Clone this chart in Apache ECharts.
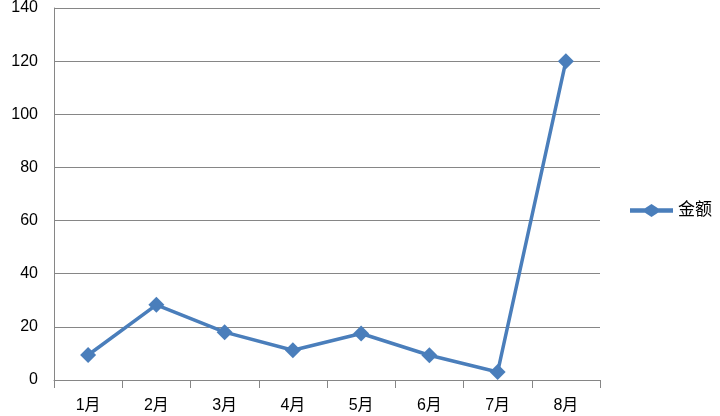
<!DOCTYPE html>
<html><head><meta charset="utf-8">
<script src="https://cdn.jsdelivr.net/npm/echarts@6/dist/echarts.min.js"></script>
<style>html,body{margin:0;padding:0;background:#fff}#c{width:720px;height:416px}</style>
</head><body><div id="c"></div>
<script>
const categories = ['1月','2月','3月','4月','5月','6月','7月','8月'];
const amounts = [9.4, 28.3, 18, 11.2, 17.5, 9.3, 3, 120];
const seriesName = '金额';
const font = '"Liberation Sans", "Noto Sans CJK SC", sans-serif';
const chart = echarts.init(document.getElementById('c'));
chart.setOption({
  animation: false,
  textStyle: {fontFamily: font},
  grid: {left: 54, right: 120, top: 8, bottom: 36, containLabel: false},
  legend: {
    data: [{name: seriesName, icon: 'path://M0,-2.2 L15,-2.2 L21.5,-6.5 L28,-2.2 L43,-2.2 L43,2.2 L28,2.2 L21.5,6.5 L15,2.2 L0,2.2Z'}],
    orient: 'vertical', left: 625, top: 197, padding: 5,
    itemWidth: 43, itemHeight: 13, itemGap: 4,
    textStyle: {fontSize: 17, color: '#000', fontFamily: font}
  },
  xAxis: {
    type: 'category', data: categories, boundaryGap: true,
    axisLine: {lineStyle: {color: '#868686', width: 1}},
    axisTick: {show: true, length: 8, lineStyle: {color: '#868686'}},
    axisLabel: {fontSize: 16, color: '#000', margin: 18, fontFamily: font}
  },
  yAxis: {
    type: 'value', min: 0, max: 140, interval: 20,
    axisLine: {show: true, lineStyle: {color: '#868686', width: 1}},
    axisTick: {show: false},
    splitLine: {lineStyle: {color: '#868686', width: 1}},
    axisLabel: {fontSize: 16, color: '#000', margin: 16, fontFamily: font}
  },
  series: [{
    name: seriesName, type: 'line', data: amounts,
    symbol: 'diamond', symbolSize: 16,
    lineStyle: {color: '#4a7ebb', width: 3.5},
    itemStyle: {color: '#4a7ebb'}
  }]
});
</script></body></html>
